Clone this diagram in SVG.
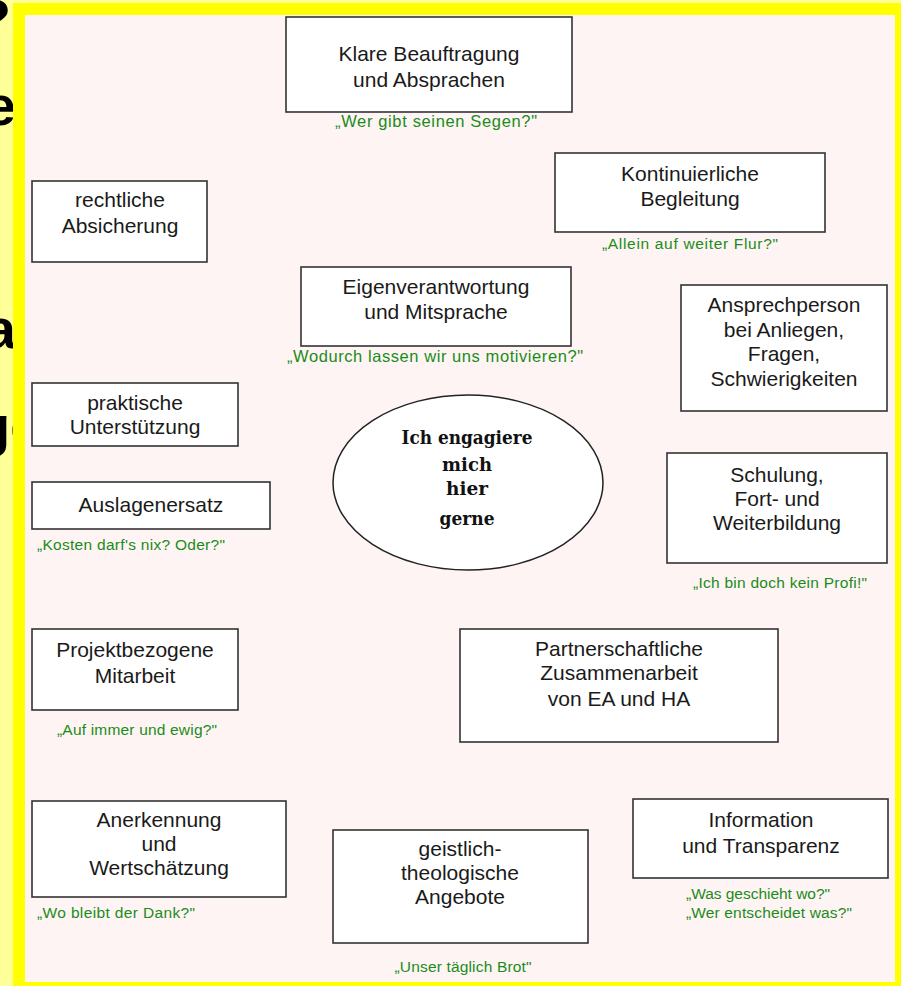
<svg xmlns="http://www.w3.org/2000/svg" width="901" height="986" viewBox="0 0 901 986">
<style>
.box{fill:#ffffff;stroke:#333333;stroke-width:1.6}
.t{font-family:"Liberation Sans",Arial,sans-serif;font-size:21px;fill:#1a1a1a;text-anchor:middle}
.q{font-family:"Liberation Sans",Arial,sans-serif;font-size:15.5px;fill:#1a8c1a}
.ql{font-size:16.5px}
.qm{text-anchor:middle}
.c{font-family:"DejaVu Serif","Liberation Serif",serif;font-weight:bold;font-size:18px;fill:#111111;text-anchor:middle}
.big{font-family:"Liberation Sans",Arial,sans-serif;font-weight:bold;font-size:56px;fill:#000000}
</style>
<rect x="0" y="0" width="901" height="986" fill="#ffff99"/>
<g id="cut-heading">
<text class="big" x="11" y="38" text-anchor="end">?</text>
<text class="big" x="16" y="125" text-anchor="end">e</text>
<text class="big" x="16" y="348" text-anchor="end">a</text>
<text class="big" x="-24" y="445">ge</text>
</g>
<rect x="13" y="3" width="888" height="983" fill="#ffff00"/>
<rect x="25" y="15" width="870" height="967" fill="#fff4f4"/>
<g id="connectors"/>
<g id="klare">
<rect class="box" x="286" y="17" width="286" height="95"/>
<text class="t" x="429" y="61">Klare Beauftragung</text>
<text class="t" x="429" y="87">und Absprachen</text>
<text class="q ql qm" x="436" y="127" textLength="202">„Wer gibt seinen Segen?"</text>
</g>
<g id="kontinuierliche">
<rect class="box" x="555" y="153" width="270" height="79"/>
<text class="t" x="690" y="181">Kontinuierliche</text>
<text class="t" x="690" y="206">Begleitung</text>
<text class="q qm" x="690" y="249" textLength="176">„Allein auf weiter Flur?"</text>
</g>
<g id="rechtliche">
<rect class="box" x="32" y="181" width="175" height="81"/>
<text class="t" x="120" y="207">rechtliche</text>
<text class="t" x="120" y="233">Absicherung</text>
</g>
<g id="eigenverantwortung">
<rect class="box" x="301" y="267" width="270" height="79"/>
<text class="t" x="436" y="294">Eigenverantwortung</text>
<text class="t" x="436" y="319">und Mitsprache</text>
<text class="q ql qm" x="435" y="362" textLength="296">„Wodurch lassen wir uns motivieren?"</text>
</g>
<g id="ansprechperson">
<rect class="box" x="681" y="285" width="206" height="126"/>
<text class="t" x="784" y="312">Ansprechperson</text>
<text class="t" x="784" y="337">bei Anliegen,</text>
<text class="t" x="784" y="361">Fragen,</text>
<text class="t" x="784" y="386">Schwierigkeiten</text>
</g>
<g id="praktische">
<rect class="box" x="32" y="383" width="206" height="63"/>
<text class="t" x="135" y="410">praktische</text>
<text class="t" x="135" y="434">Unterstützung</text>
</g>
<g id="zentrum">
<ellipse cx="468" cy="482.5" rx="135" ry="87.5" fill="#ffffff" stroke="#222222" stroke-width="1.5"/>
<text class="c" x="467" y="444" textLength="131" lengthAdjust="spacingAndGlyphs">Ich engagiere</text>
<text class="c" x="467" y="471" textLength="50" lengthAdjust="spacingAndGlyphs">mich</text>
<text class="c" x="467" y="495" textLength="42" lengthAdjust="spacingAndGlyphs">hier</text>
<text class="c" x="467" y="525" textLength="55" lengthAdjust="spacingAndGlyphs">gerne</text>
</g>
<g id="schulung">
<rect class="box" x="667" y="453" width="220" height="110"/>
<text class="t" x="777" y="482">Schulung,</text>
<text class="t" x="777" y="506">Fort- und</text>
<text class="t" x="777" y="530">Weiterbildung</text>
<text class="q qm" x="780" y="588" textLength="174">„Ich bin doch kein Profi!"</text>
</g>
<g id="auslagenersatz">
<rect class="box" x="32" y="482" width="238" height="47"/>
<text class="t" x="151" y="512">Auslagenersatz</text>
<text class="q qm" x="131" y="550" textLength="188">„Kosten darf's nix? Oder?"</text>
</g>
<g id="projekt">
<rect class="box" x="32" y="629" width="206" height="81"/>
<text class="t" x="135" y="657">Projektbezogene</text>
<text class="t" x="135" y="683">Mitarbeit</text>
<text class="q qm" x="137" y="735" textLength="160">„Auf immer und ewig?"</text>
</g>
<g id="partnerschaft">
<rect class="box" x="460" y="629" width="318" height="113"/>
<text class="t" x="619" y="656">Partnerschaftliche</text>
<text class="t" x="619" y="680">Zusammenarbeit</text>
<text class="t" x="619" y="706">von EA und HA</text>
</g>
<g id="anerkennung">
<rect class="box" x="32" y="801" width="254" height="96"/>
<text class="t" x="159" y="827">Anerkennung</text>
<text class="t" x="159" y="851">und</text>
<text class="t" x="159" y="875">Wertschätzung</text>
<text class="q qm" x="116" y="918" textLength="158">„Wo bleibt der Dank?"</text>
</g>
<g id="geistlich">
<rect class="box" x="333" y="830" width="255" height="113"/>
<text class="t" x="460" y="856">geistlich-</text>
<text class="t" x="460" y="880">theologische</text>
<text class="t" x="460" y="904">Angebote</text>
<text class="q qm" x="463" y="972" textLength="137">„Unser täglich Brot"</text>
</g>
<g id="information">
<rect class="box" x="633" y="799" width="255" height="79"/>
<text class="t" x="761" y="827">Information</text>
<text class="t" x="761" y="853">und Transparenz</text>
<text class="q" x="686" y="899" textLength="144">„Was geschieht wo?"</text>
<text class="q" x="686" y="918" textLength="166">„Wer entscheidet was?"</text>
</g>
</svg>
